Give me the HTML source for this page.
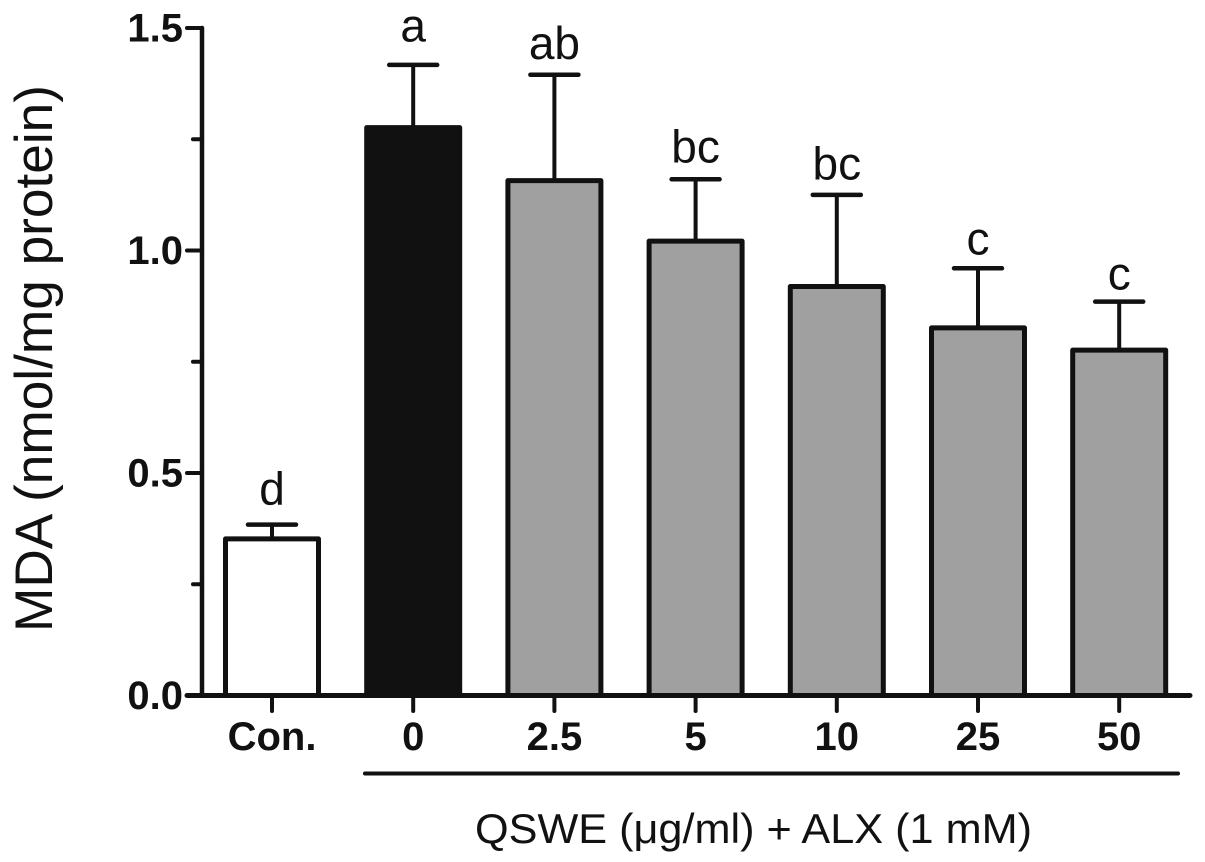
<!DOCTYPE html>
<html>
<head>
<meta charset="utf-8">
<style>
html,body{margin:0;padding:0;background:#fff;}
svg{display:block;}
text{fill:#111;font-family:"Liberation Sans",sans-serif;}
</style>
</head>
<body>
<svg id="chart" width="1205" height="862" viewBox="0 0 1205 862" xmlns="http://www.w3.org/2000/svg"></svg>
<script>
const categories = ["Con.", "0", "2.5", "5", "10", "25", "50"];
const means = [0.352, 1.276, 1.157, 1.021, 0.919, 0.826, 0.776];
const errors = [0.032, 0.141, 0.238, 0.139, 0.206, 0.134, 0.109];
const letters = ["d", "a", "ab", "bc", "bc", "c", "c"];
const letterRaise = [0.045, 0.053, 0.035, 0.038, 0.034, 0.031, 0.027];
const groups = ["control", "model", "treated", "treated", "treated", "treated", "treated"];
const majorTicks = [0, 0.5, 1.0, 1.5];
const minorTicks = [0.25, 0.75, 1.25];
const tickLabels = ["0.0", "0.5", "1.0", "1.5"];

const svg = document.getElementById('chart');
const NS = 'http://www.w3.org/2000/svg';
const groupFill = { control: '#ffffff', model: '#111111', treated: '#a0a0a0' };
const INK = '#111111';
const y = v => 695.5 - v * 445;
const x = i => 272 + i * 141.2;

function make(tag, attrs, text) {
  const el = document.createElementNS(NS, tag);
  for (const k in attrs) el.setAttribute(k, attrs[k]);
  if (text !== undefined) el.textContent = text;
  svg.appendChild(el);
  return el;
}
function line(x1, y1, x2, y2, w) {
  return make('line', { x1: x1, y1: y1, x2: x2, y2: y2, stroke: INK, 'stroke-width': w, 'stroke-linecap': 'round' });
}

categories.forEach((c, i) => {
  const top = y(means[i] + errors[i]);
  const stem = line(x(i), top, x(i), y(means[i]), 4);
  
  
  const cap = line(x(i) - 24, top, x(i) + 24, top, 4.5);
  
  
  const bar = make('rect', {
    x: x(i) - 46.5, y: y(means[i]), width: 93, height: y(0) - y(means[i]),
    fill: groupFill[groups[i]], stroke: INK, 'stroke-width': 5, 'stroke-linejoin': 'round'
  });
  
  
  const sig = make('text', { x: x(i), y: y(means[i] + errors[i] + letterRaise[i]), 'text-anchor': 'middle', 'font-size': 46 }, letters[i]);
  
  
  const tick = line(x(i), 697, x(i), 711, 4);
  
  
  const lab = make('text', { x: x(i), y: 750, 'text-anchor': 'middle', 'font-size': 40, 'font-weight': 'bold' }, c);
  
  
});

const yAxis = line(202, y(1.5), 202, y(0), 4.5);


const xAxis = line(187, y(0), 1190, y(0), 5);



majorTicks.forEach((v, i) => {
  const t = line(187, y(v), 202, y(v), 4);
  
  
  const l = make('text', { x: 183, y: y(v) + 13.5, 'text-anchor': 'end', 'font-size': 40, 'font-weight': 'bold' }, tickLabels[i]);
  
  
});
minorTicks.forEach((v, i) => {
  const t = line(193, y(v), 202, y(v), 4);
  
  
});
</script>
<svg width="1205" height="862" viewBox="0 0 1205 862" xmlns="http://www.w3.org/2000/svg" style="position:absolute;left:0;top:0;pointer-events:none">
  <text transform="translate(52,632) rotate(-90)" font-size="53" textLength="547" lengthAdjust="spacingAndGlyphs">MDA (nmol/mg protein)</text>
  <line x1="365" y1="773.5" x2="1178" y2="773.5" stroke="#111" stroke-width="4" stroke-linecap="round"/>
  <text x="475" y="843" font-size="42" textLength="557" lengthAdjust="spacingAndGlyphs">QSWE (μg/ml) + ALX (1 mM)</text>
</svg>
</body>
</html>
